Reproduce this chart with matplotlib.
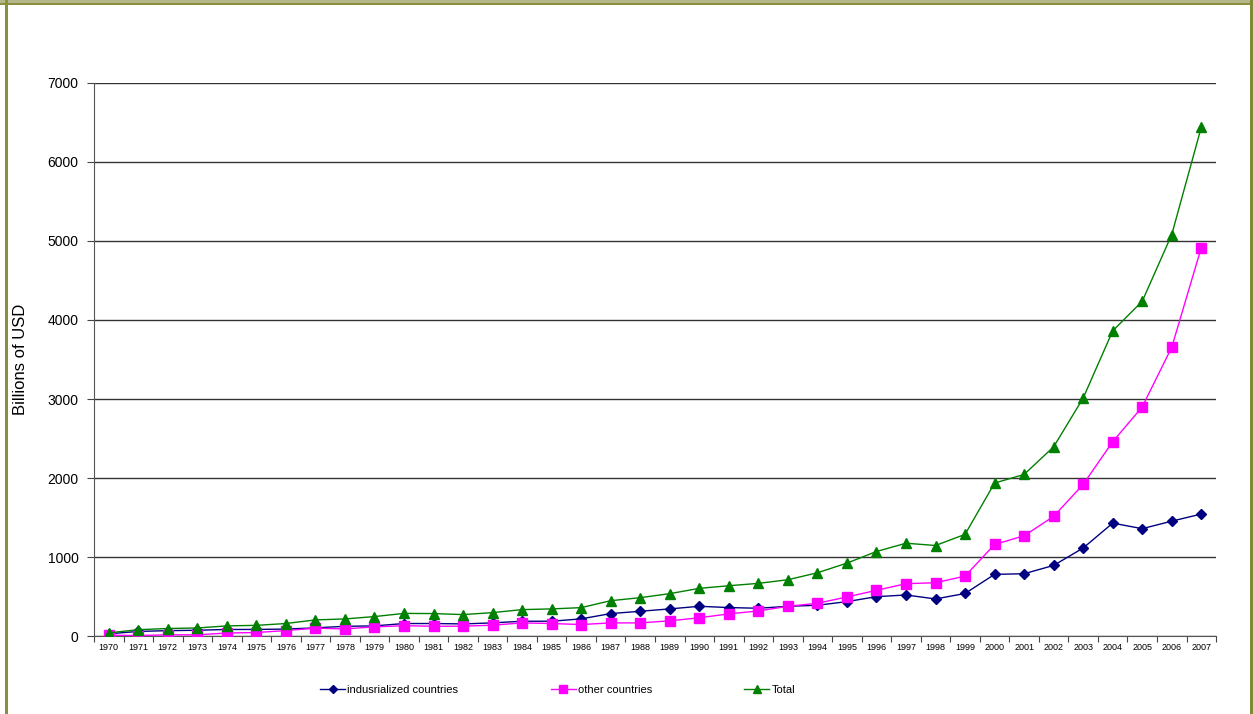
import matplotlib
matplotlib.use('Agg')
import matplotlib.pyplot as plt
from matplotlib.patches import Rectangle
import numpy as np

plt.rcParams['font.family'] = ['Liberation Sans', 'DejaVu Sans']

years = list(range(1970, 2008))

industrialized = [30, 60, 70, 75, 85, 85, 90, 105, 125, 130,
                  160, 160, 155, 168, 189, 189, 219, 286, 315, 345,
                  378, 362, 353, 378, 391, 437, 500, 521, 471, 540,
                  782, 790, 895, 1115, 1430, 1360, 1455, 1545]
other = [12, 8, 17, 17, 40, 46, 71, 101, 92, 118,
         132, 126, 126, 139, 168, 160, 147, 168, 168, 194,
         233, 282, 319, 378, 416, 496, 580, 664, 676, 760,
         1160, 1270, 1515, 1920, 2460, 2900, 3655, 4915]
total = [42, 82, 97, 104, 130, 137, 160, 206, 218, 248,
         288, 286, 273, 298, 336, 345, 361, 449, 487, 538,
         605, 638, 668, 714, 802, 924, 1071, 1176, 1147, 1288,
         1937, 2046, 2395, 3012, 3862, 4236, 5080, 6438]

fig = plt.figure(figsize=(12.53, 7.14), dpi=100, facecolor='white')
ax = fig.add_axes([0.075, 0.109, 0.8955, 0.775])

x = np.arange(len(years))
ax.plot(x, industrialized, color='#000080', lw=1, marker='D', ms=5,
        label='indusrialized countries', zorder=3)
ax.plot(x, other, color='#ff00ff', lw=1, marker='s', ms=7,
        label='other countries', zorder=3)
ax.plot(x, total, color='#008000', lw=1, marker='^', ms=7,
        label='Total', zorder=3)

ax.set_xlim(-0.5, len(years) - 0.5)
ax.set_ylim(0, 7000)
ax.set_yticks(range(0, 7001, 1000))
ax.yaxis.grid(True, color='#333333', lw=1)
ax.set_axisbelow(True)

# category axis: ticks between the years, labels centred on them
ax.set_xticks(np.arange(-0.5, len(years), 1))
ax.set_xticklabels([])
ax.set_xticks(x, minor=True)
ax.set_xticklabels([str(y) for y in years], minor=True, fontsize=6.5)
ax.tick_params(axis='x', which='major', length=4, color='#444444')
ax.tick_params(axis='x', which='minor', length=0, pad=5)
ax.tick_params(axis='y', length=5, labelsize=10, color='#444444', pad=6)

for side in ('top', 'right'):
    ax.spines[side].set_visible(False)
for side in ('left', 'bottom'):
    ax.spines[side].set_color('#555555')

ax.set_ylabel('Billions of USD', fontsize=12)
ax.yaxis.set_label_coords(-0.059, 0.5)

fig.legend(loc='center', bbox_to_anchor=(0.445, 0.034), ncol=3,
           frameon=False, fontsize=8, handlelength=2.25,
           handletextpad=0.2, columnspacing=8.3, markerscale=0.75)

# olive frame round the chart
fig.patches.append(Rectangle((0, 1 - 3 / 714), 1, 3 / 714, transform=fig.transFigure,
                             facecolor='#b3b78a', edgecolor='none'))
fig.patches.append(Rectangle((0, 1 - 5 / 714), 1, 2 / 714, transform=fig.transFigure,
                             facecolor='#8a8f3c', edgecolor='none'))
fig.patches.append(Rectangle((5 / 1253, 0), 3 / 1253, 1, transform=fig.transFigure,
                             facecolor='#8a8f3c', edgecolor='none'))
fig.patches.append(Rectangle((1 - 3 / 1253, 0), 3 / 1253, 1, transform=fig.transFigure,
                             facecolor='#7f8a35', edgecolor='none'))

plt.savefig('out.png', dpi=100, facecolor='white')
plt.close()
